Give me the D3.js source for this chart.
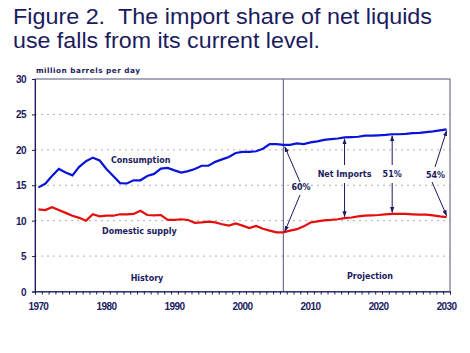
<!DOCTYPE html>
<html><head><meta charset="utf-8">
<script src="https://cdn.jsdelivr.net/npm/d3@7"></script>
<style>body{margin:0;background:#fff}svg{display:block}</style>
</head><body>
<svg id="c" width="470" height="353"></svg>
<script>
const years = d3.range(1970, 2031);
const consumption = [14.7,15.2,16.3,17.3,16.8,16.4,17.6,18.4,18.9,18.5,17.3,16.3,15.3,15.25,15.7,15.7,16.3,16.6,17.35,17.45,17.1,16.8,17.0,17.3,17.75,17.75,18.3,18.65,19.0,19.55,19.7,19.7,19.8,20.15,20.8,20.8,20.7,20.7,20.9,20.8,21.05,21.2,21.4,21.5,21.6,21.75,21.8,21.85,22.0,22.0,22.05,22.1,22.2,22.2,22.25,22.35,22.4,22.5,22.6,22.75,22.9];
const domestic = [11.6,11.5,11.9,11.5,11.1,10.7,10.4,10.0,10.9,10.6,10.7,10.7,10.9,10.9,10.95,11.4,10.8,10.75,10.8,10.1,10.1,10.2,10.1,9.7,9.75,9.85,9.75,9.5,9.3,9.6,9.3,8.95,9.25,8.85,8.6,8.35,8.35,8.6,8.8,9.2,9.75,9.9,10.05,10.1,10.2,10.35,10.45,10.6,10.7,10.75,10.8,10.9,10.95,10.95,10.95,10.9,10.85,10.85,10.75,10.6,10.5];
const yTicks = [0,5,10,15,20,25,30];
const xTickLabels = [1970,1980,1990,2000,2010,2020,2030];
const gridValues = [5,10,15,20,25];
const projectionStart = 2006;
const shareNotes = [{year:2006,label:"60%"},{year:2015,label:"Net Imports"},{year:2022,label:"51%"},{year:2030,label:"54%"}];

const navy = "#1b1b5e";
const svg = d3.select("#c");
const x = d3.scaleLinear().domain([1969.5, 2030.5]).range([35, 450]);
const y = d3.scaleLinear().domain([0, 30]).range([291.5, 79]);

// title
svg.append("text").attr("x",13).attr("y",23.5).attr("font-family","Liberation Sans, Arial, sans-serif")
  .attr("font-size",21.5).attr("fill",navy).attr("textLength",419).attr("lengthAdjust","spacingAndGlyphs")
  .text("Figure 2.\u00a0\u00a0The import share of net liquids");
svg.append("text").attr("x",13).attr("y",47.5).attr("font-family","Liberation Sans, Arial, sans-serif")
  .attr("font-size",21.5).attr("fill",navy).attr("textLength",307).attr("lengthAdjust","spacingAndGlyphs")
  .text("use falls from its current level.");

svg.append("text").attr("x",36).attr("y",73).attr("font-family","DejaVu Sans, sans-serif").attr("font-weight","bold")
  .attr("font-size",7.3).attr("fill",navy).attr("textLength",104).text("million barrels per day");

// grid
svg.append("g").selectAll("line").data(gridValues).join("line")
  .attr("x1",x.range()[0]).attr("x2",x.range()[1]).attr("y1",d=>y(d)).attr("y2",d=>y(d))
  .attr("stroke","#b0b0b0").attr("stroke-width",1).attr("stroke-dasharray","2,4");

// frame
svg.append("rect").attr("x",35).attr("y",y(30)).attr("width",415).attr("height",y(0)-y(30))
  .attr("fill","none").attr("stroke","#55557a").attr("stroke-width",1);

// y axis
const yAxis = svg.append("g").attr("transform","translate(35,0)")
  .call(d3.axisLeft(y).tickValues(yTicks).tickSize(3).tickPadding(6).tickFormat(d3.format("d")));
yAxis.select(".domain").attr("stroke",navy);
yAxis.selectAll("line").attr("stroke",navy);
yAxis.selectAll("text").attr("font-family","Liberation Sans, Arial, sans-serif").attr("font-weight","bold")
  .attr("font-size",10).attr("fill",navy).attr("letter-spacing",-0.6).attr("dy","0.35em");

// x axis ticks at year boundaries
const xAxis = svg.append("g").attr("transform",`translate(0,${y(0)})`)
  .call(d3.axisBottom(x).tickValues(d3.range(1969.5, 2031.5, 1)).tickSize(3).tickFormat(""));
xAxis.select(".domain").attr("stroke",navy);
xAxis.selectAll("line").attr("stroke",navy);
svg.append("g").selectAll("text").data(xTickLabels).join("text")
  .attr("x",d=>x(d)).attr("y",310).attr("text-anchor","middle")
  .attr("font-family","Liberation Sans, Arial, sans-serif").attr("font-weight","bold")
  .attr("font-size",10).attr("letter-spacing",-0.6).attr("fill",navy).text(d=>d);

// projection divider
svg.append("line").attr("x1",x(projectionStart)).attr("x2",x(projectionStart))
  .attr("y1",y(30)).attr("y2",y(0)).attr("stroke","#55557a").attr("stroke-width",1);

// lines
const line = arr => d3.line().x((d,i)=>x(years[i])).y(d=>y(d))(arr);
svg.append("path").attr("d",line(consumption)).attr("fill","none").attr("stroke","#0a14d6").attr("stroke-width",2.2);
svg.append("path").attr("d",line(domestic)).attr("fill","none").attr("stroke","#e60d0d").attr("stroke-width",2.2);

// labels
const lab = (t,xx,yy,anchor="start") => svg.append("text").attr("x",xx).attr("y",yy).attr("text-anchor",anchor)
  .attr("font-family","DejaVu Sans, Verdana, sans-serif").attr("font-weight","bold").attr("font-size",8)
  .attr("fill",navy).text(t);
lab("Consumption", 111, 163);
lab("Domestic supply", 102, 234);
lab("History", 147, 280.5, "middle");
lab("Projection", 370, 279, "middle");

// arrows
const defs = svg.append("defs");
defs.append("marker").attr("id","ah").attr("viewBox","0 0 10 10").attr("refX",9).attr("refY",5)
  .attr("markerWidth",6).attr("markerHeight",6).attr("orient","auto-start-reverse")
  .append("path").attr("d","M0,1.5L10,5L0,8.5Z").attr("fill",navy);
const arrow = (x1,y1,x2,y2) => svg.append("line").attr("x1",x1).attr("y1",y1).attr("x2",x2).attr("y2",y2)
  .attr("stroke",navy).attr("stroke-width",1).attr("marker-end","url(#ah)");
const val = (arr, yr) => arr[years.indexOf(yr)];

// 60%
{
  const yr = shareNotes[0].year, xx = x(yr);
  lab(shareNotes[0].label, 301, 190, "middle");
  arrow(300, 182, xx+1.5, y(val(consumption,yr))+2);
  arrow(300, 195, xx+1.5, y(val(domestic,yr))-1);
}
// Net Imports & 51%
[1,2].forEach(k=>{
  const yr = shareNotes[k].year, xx = x(yr);
  lab(shareNotes[k].label, xx, 177, "middle");
  arrow(xx, 165, xx, y(val(consumption,yr))+1.5);
  arrow(xx, 183, xx, y(val(domestic,yr))-1.5);
});
// 54%
{
  const yr = shareNotes[3].year, xx = x(yr);
  lab(shareNotes[3].label, 435.5, 178, "middle");
  arrow(435, 167, xx, y(val(consumption,yr))+1.5);
  arrow(432, 182, xx, y(val(domestic,yr))-1.5);
}
</script>
</body></html>
